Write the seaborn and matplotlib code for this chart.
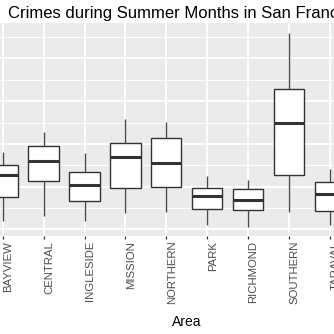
import numpy as np
import pandas as pd
import matplotlib
matplotlib.use("Agg")
import matplotlib.pyplot as plt
import matplotlib.transforms as mtransforms
from matplotlib.ticker import MultipleLocator
import seaborn as sns

# ---- data: five-number summaries ----
areas = ["BAYVIEW", "CENTRAL", "INGLESIDE", "MISSION", "NORTHERN",
         "PARK", "RICHMOND", "SOUTHERN", "TARAVAL"]
lower_whisker = [11.9, 13.0, 11.9, 13.9, 14.1, 10.9, 10.6, 14.0, 11.1]
q1            = [17.5, 21.3, 16.6, 19.6, 20.0, 14.7, 14.5, 22.7, 14.2]
median        = [22.7, 26.1, 20.4, 26.9, 25.5, 17.8, 16.8, 34.8, 18.3]
q3            = [25.1, 29.4, 23.4, 30.3, 31.3, 19.6, 19.4, 42.9, 21.0]
upper_whisker = [28.2, 32.9, 27.8, 35.8, 35.1, 22.5, 21.6, 56.0, 24.1]

title = "Crimes during Summer Months in San Francisco"
x_label = "Area"

rows = []
for a, lo, a1, m, a3, hi in zip(areas, lower_whisker, q1, median, q3, upper_whisker):
    for v in (lo, a1, m, a3, hi):
        rows.append({"Area": a, "Crimes": v})
df = pd.DataFrame(rows)

sns.set_theme(style="darkgrid", rc={"axes.facecolor": "#EBEBEB",
                                    "grid.color": "white"})
plt.rcParams["font.family"] = ["Liberation Sans", "DejaVu Sans"]

W = H = 334
fig = plt.figure(figsize=(W / 100, H / 100), dpi=100)
fig.patch.set_facecolor("white")
ax_bottom = 1 - 235.7 / H
ax_top = 1 - 23.3 / H
ax = fig.add_axes([0, ax_bottom, 1, ax_top - ax_bottom])

sns.boxplot(data=df, x="Area", y="Crimes", order=areas, ax=ax,
            whis=(0, 100), width=0.74, showcaps=False,
            color="white", saturation=1, linecolor="#333333", linewidth=1.0,
            boxprops={"facecolor": "white"},
            medianprops={"linewidth": 2.2, "color": "#333333"},
            whiskerprops={"color": "#4a4a4a"})

# crop like the reference
ax.set_xlim(-0.066, 8.10)
ax.set_ylim(8.5, 58.24)
ax.yaxis.set_major_locator(MultipleLocator(10))
ax.yaxis.set_minor_locator(MultipleLocator(5))
ax.set_axisbelow(True)
ax.xaxis.grid(True, color="white", linewidth=1.3)
ax.yaxis.grid(True, which="major", color="white", linewidth=1.3)
ax.yaxis.grid(True, which="minor", color="white", linewidth=0.65)
for s in ax.spines.values():
    s.set_visible(False)

ax.tick_params(axis="y", which="both", left=False, labelleft=False)
ax.tick_params(axis="x", bottom=True, length=2.2, width=0.9, color="#333333",
               pad=1.5, labelsize=8.2, labelcolor="#4D4D4D")
ax.set_xlabel("")
ax.set_ylabel("")
offset = mtransforms.ScaledTranslation(0.5 / 100, 0, fig.dpi_scale_trans)
for lab in ax.get_xticklabels():
    lab.set_rotation(90)
    lab.set_ha("left")
    lab.set_va("top")
    lab.set_transform(lab.get_transform() + offset)

fig.text(8 / W, 1 - 18.3 / H, title, ha="left", va="baseline",
         fontsize=12, color="black")
fig.text(186.7 / W, 1 - 326 / H, x_label, ha="center", va="baseline",
         fontsize=10, color="black")

fig.savefig("out.png", dpi=100)
